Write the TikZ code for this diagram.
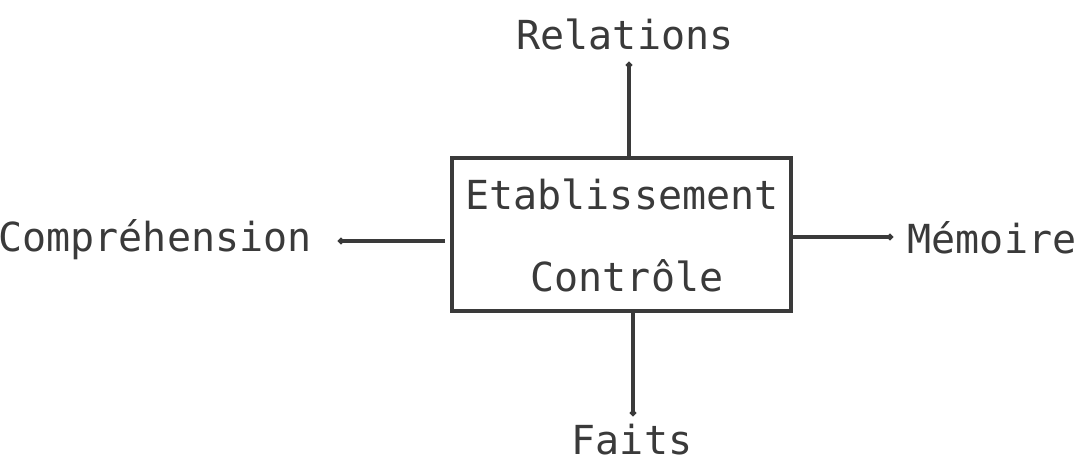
\documentclass[tikz,border=0pt]{standalone}
\usepackage{fontspec}
\setmonofont{DejaVu Sans Mono}
\usetikzlibrary{arrows.meta}
\definecolor{ink}{HTML}{3A3A3A}
\tikzset{
  lbl/.style={font=\ttfamily\fontsize{20}{22}\selectfont, text=ink, inner sep=0pt},
  link/.style={draw=ink, line width=1.6pt, -{Circle[length=3pt]}},
}
\begin{document}
\begin{tikzpicture}[x=0.5pt, y=-0.5pt]
      \useasboundingbox (0,0) rectangle (1083,464);
      % Nodes
      \node[draw=ink, line width=1.8pt, minimum width=169.5pt, minimum height=76.5pt, inner sep=0pt] at (621.5, 234.5) (box) {};
      \node[lbl] at (622, 194) (etab) {Etablissement};
      \node[lbl] at (627, 276) (ctrl) {Contrôle};
      \node[lbl] at (625, 34) (rel) {Relations};
      \node[lbl] at (155, 240) (comp) {Compréhension};
      \node[lbl] at (992, 238) (mem) {Mémoire};
      \node[lbl] at (632, 440) (faits) {Faits};

      % free ends
      \coordinate (relend) at (629, 62);
      \coordinate (compend) at (338, 241);
      \coordinate (memend) at (893, 237);
      \coordinate (faitsend) at (633, 416);

      \draw[link] (box.north -| relend) -- (relend);
      \draw[link] ([xshift=-2.5pt]box.west |- compend) -- (compend);
      \draw[link] (box.east |- memend) -- (memend);
      \draw[link] (box.south -| faitsend) -- (faitsend);
    \end{tikzpicture}
\end{document}
